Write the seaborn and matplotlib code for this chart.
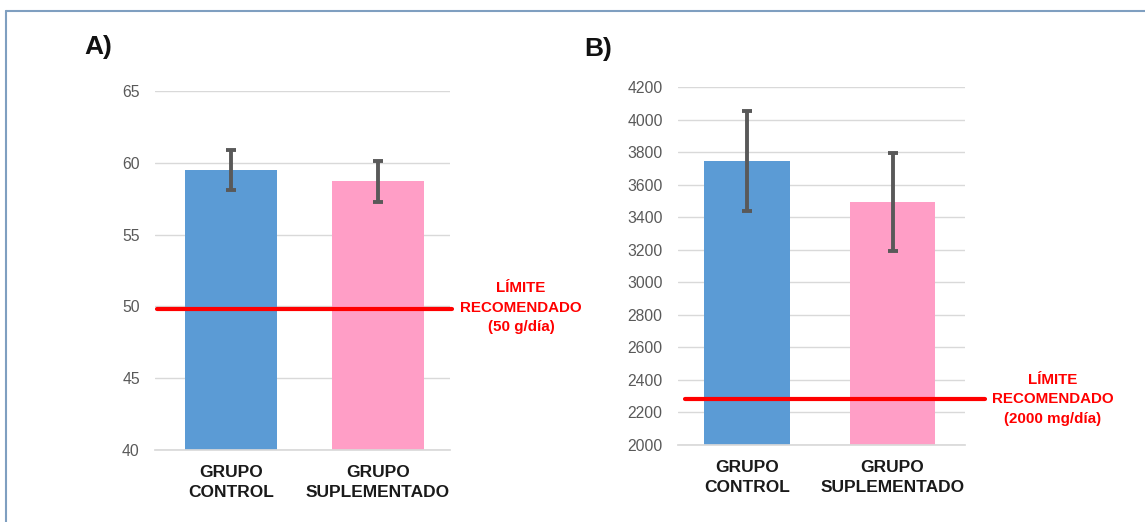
import numpy as np
import pandas as pd
import matplotlib
matplotlib.use("Agg")
import matplotlib.pyplot as plt
import seaborn as sns

# data
grupos = ["GRUPO\nCONTROL", "GRUPO\nSUPLEMENTADO"]
colores = ["#5B9BD5", "#FF9EC6"]

grasa_media = [59.5, 58.7]
grasa_err = [1.4, 1.4]
grasa_limite = 49.8
grasa_ticks = [40, 45, 50, 55, 60, 65]

sodio_media = [3745, 3495]
sodio_err = [305, 302]
sodio_limite = 2285
sodio_ticks = list(range(2000, 4201, 200))

sns.set_theme(style="white")
plt.rcParams["font.family"] = ["Liberation Sans", "DejaVu Sans"]

fig = plt.figure(figsize=(11.45, 5.22), dpi=100)
ax_a = fig.add_axes([0.1354, 0.1379, 0.2576, 0.6877])
ax_b = fig.add_axes([0.5921, 0.1475, 0.2507, 0.6858])


def panel(ax, medias, errores, limite, ticks, width, xlim, linea_x, texto, texto_xy):
    df = pd.DataFrame({"grupo": grupos, "valor": medias})
    sns.barplot(data=df, x="grupo", y="valor", hue="grupo", palette=colores,
                saturation=1, width=width, errorbar=None, legend=False,
                linewidth=0, ax=ax, zorder=2)
    ax.errorbar(np.arange(len(grupos)), medias, yerr=errores, fmt="none",
                ecolor="#595959", elinewidth=2.8, capsize=3.5, capthick=2.8, zorder=3)
    ax.set_ylim(ticks[0], ticks[-1])
    ax.set_yticks(ticks)
    ax.set_xlim(*xlim)
    ax.yaxis.grid(True, color="#d9d9d9", linewidth=1, zorder=0)
    ax.set_axisbelow(True)
    for s in ["top", "right", "left"]:
        ax.spines[s].set_visible(False)
    ax.spines["bottom"].set_color("#d9d9d9")
    ax.tick_params(axis="y", length=0, pad=11, labelsize=11.3, labelcolor="#595959")
    ax.tick_params(axis="x", length=0, pad=11)
    for lbl in ax.get_xticklabels():
        lbl.set_fontsize(12.5)
        lbl.set_fontweight("bold")
        lbl.set_color("#1a1a1a")
        lbl.set_linespacing(1.4)
    ax.set_xlabel("")
    ax.set_ylabel("")
    ax.axhline(limite, xmin=linea_x[0], xmax=linea_x[1], color="#FF0000",
               linewidth=3, clip_on=False, zorder=4)
    ax.text(texto_xy[0], texto_xy[1], texto, transform=fig.transFigure,
            ha="center", va="center", color="#FF0000", fontsize=10.9,
            fontweight="bold", linespacing=1.5)


panel(ax_a, grasa_media, grasa_err, grasa_limite, grasa_ticks, 0.63,
      (-0.517, 1.49), (0.007, 1.007),
      "LÍMITE\nRECOMENDADO\n(50 g/día)", (521 / 1145, 1 - 308 / 522))
panel(ax_b, sodio_media, sodio_err, sodio_limite, sodio_ticks, 0.59,
      (-0.474, 1.498), (0.024, 1.07),
      "LÍMITE\nRECOMENDADO\n(2000 mg/día)", (1053 / 1145, 1 - 399 / 522))

fig.text(84 / 1145, 1 - 47 / 522, "A)", fontsize=19, fontweight="bold",
         ha="left", va="center", color="#111111")
fig.text(584 / 1145, 1 - 49 / 522, "B)", fontsize=19, fontweight="bold",
         ha="left", va="center", color="#111111")

# thin frame at top and left, as in the source
fig.add_artist(plt.Line2D([6 / 1145, 1], [1 - 11 / 522, 1 - 11 / 522],
                          transform=fig.transFigure, color="#7f9fc0", linewidth=1.5))
fig.add_artist(plt.Line2D([6 / 1145, 6 / 1145], [0, 1 - 11 / 522],
                          transform=fig.transFigure, color="#7f9fc0", linewidth=1.5))

fig.savefig("out.png", dpi=100)
